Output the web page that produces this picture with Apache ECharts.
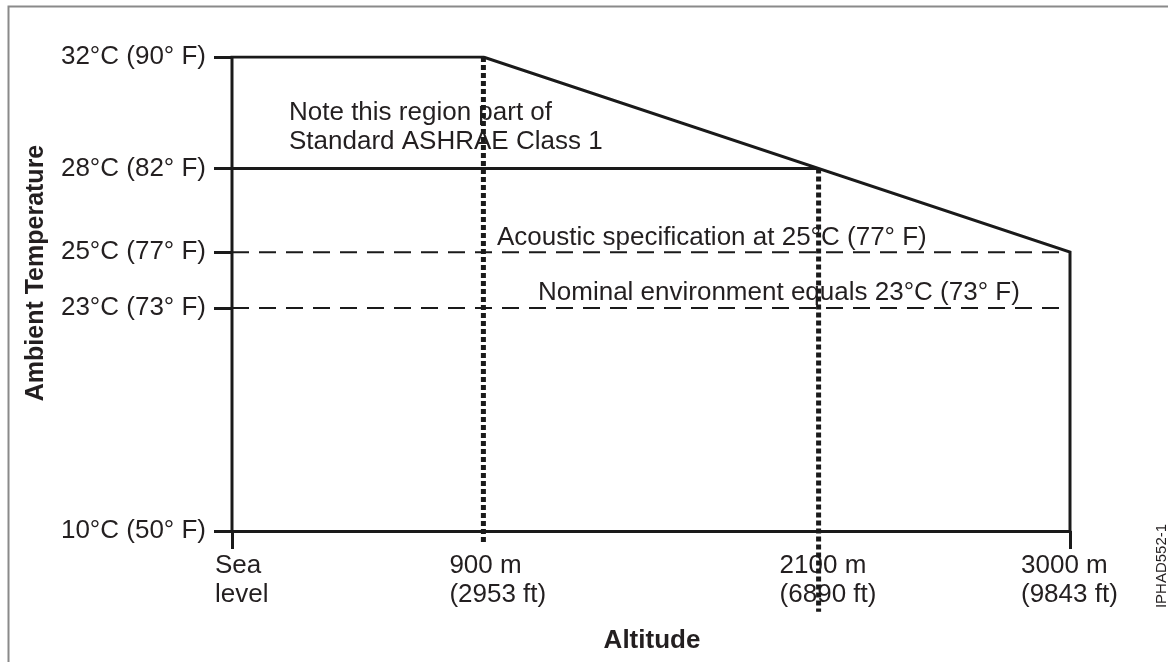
<!DOCTYPE html>
<html>
<head>
<meta charset="utf-8">
<script src="https://cdn.jsdelivr.net/npm/echarts@6/dist/echarts.min.js"></script>
<style>
  html, body { margin: 0; padding: 0; background: #fff; }
  #chart { width: 1168px; height: 662px; }
</style>
</head>
<body>
<div id="chart"></div>
<script>
// Altitude ticks (metres) and their equivalents in feet
const altitudeM = [0, 900, 2100, 3000];
const altitudeFt = [null, 2953, 6890, 9843];
// Temperature ticks (°C) and their equivalents in °F
const tempC = [32, 28, 25, 23, 10];
const tempF = [90, 82, 77, 73, 50];

// Allowed operating envelope: maximum ambient temperature by altitude
const envelopeAlt = [0, 0, 900, 3000, 3000];
const envelopeTemp = [10, 32, 32, 25, 10];
// Upper boundary of the ASHRAE Class 1 region
const class1Alt = [0, 2100];
const class1Temp = [28, 28];
// Reference temperatures across the full altitude range
const acousticTemp = 25;
const nominalTemp = 23;
// Dotted altitude guides (top and bottom temperature of each guide)
const guideAlt = [900, 2100];
const guideTop = [32, 28];
const guideBottom = [9.5, 7.1];

const INK = '#1a1a1a';
const TEXT = '#231f20';
const FONT = '"Liberation Sans", Arial, Helvetica, sans-serif';

const chart = echarts.init(document.getElementById('chart'), null, { renderer: 'canvas' });

const pairs = (xs, ys) => xs.map((x, i) => [x, ys[i]]);
const baseLine = { type: 'line', symbol: 'none', silent: true, animation: false };

const series = [
  Object.assign({}, baseLine, {
    name: 'envelope',
    data: pairs(envelopeAlt, envelopeTemp),
    lineStyle: { color: INK, width: 3, join: 'miter' },
    z: 3
  }),
  Object.assign({}, baseLine, {
    name: 'class1',
    data: pairs(class1Alt, class1Temp),
    lineStyle: { color: INK, width: 3 },
    z: 3
  }),
  Object.assign({}, baseLine, {
    name: 'acoustic',
    data: [[altitudeM[0], acousticTemp], [altitudeM[altitudeM.length - 1], acousticTemp]],
    lineStyle: { color: INK, width: 2, type: [17, 10] },
    z: 2
  }),
  Object.assign({}, baseLine, {
    name: 'nominal',
    data: [[altitudeM[0], nominalTemp], [altitudeM[altitudeM.length - 1], nominalTemp]],
    lineStyle: { color: INK, width: 2, type: [17, 10] },
    z: 2
  })
];
guideAlt.forEach((a, i) => {
  series.push(Object.assign({}, baseLine, {
    name: 'guide' + i,
    clip: false,
    data: [[a, guideTop[i]], [a, guideBottom[i]]],
    lineStyle: { color: INK, width: 5, type: [5, 3] },
    z: 4
  }));
});

chart.setOption({
  animation: false,
  backgroundColor: '#fff',
  grid: { left: 232, right: 98, top: 57, bottom: 131, containLabel: false, outerBoundsMode: 'none' },
  xAxis: {
    type: 'value',
    min: 0,
    max: 3000,
    axisLine: { show: true, onZero: false, lineStyle: { color: INK, width: 3 } },
    axisTick: { show: true, customValues: [altitudeM[0], altitudeM[altitudeM.length - 1]], length: 18, lineStyle: { color: INK, width: 3 } },
    axisLabel: { show: false },
    splitLine: { show: false }
  },
  yAxis: {
    type: 'value',
    min: 10,
    max: 32,
    breaks: [{ start: 12, end: 17, gap: 0 }],
    breakArea: { show: false },
    axisLine: { show: false },
    axisTick: { show: true, customValues: tempC, length: 18, lineStyle: { color: INK, width: 3 } },
    axisLabel: {
      show: true,
      customValues: tempC,
      margin: 26,
      fontSize: 26,
      fontFamily: FONT,
      color: TEXT,
      formatter: v => {
        const i = tempC.indexOf(v);
        return i < 0 ? '' : `${tempC[i]}°C (${tempF[i]}° F)`;
      }
    },
    splitLine: { show: false }
  },
  series: series
});

// Text placed after layout, anchored through the axis scales
const labelShift = [17, 34, 39, 49];
const graphics = [];
altitudeM.forEach((m, i) => {
  const p = chart.convertToPixel({ gridIndex: 0 }, [m, 10]);
  const txt = i === 0 ? 'Sea\nlevel' : `${m} m\n(${altitudeFt[i]} ft)`;
  graphics.push({
    type: 'text', silent: true,
    x: p[0] - labelShift[i], y: p[1] + 20,
    style: { text: txt, font: `26px ${FONT}`, fill: TEXT, lineHeight: 29, align: 'left', verticalAlign: 'top' }
  });
});

graphics.push(
  {
    type: 'text', silent: true, x: 289, y: 127,
    style: { text: 'Note this region part of\nStandard ASHRAE Class 1', font: `26px ${FONT}`, fill: TEXT, lineHeight: 29, align: 'left', verticalAlign: 'middle' }
  },
  {
    type: 'text', silent: true, x: 497, y: 238,
    style: { text: 'Acoustic specification at 25°C (77° F)', font: `26px ${FONT}`, fill: TEXT, align: 'left', verticalAlign: 'middle' }
  },
  {
    type: 'text', silent: true, x: 538, y: 293,
    style: { text: 'Nominal environment equals 23°C (73° F)', font: `26px ${FONT}`, fill: TEXT, align: 'left', verticalAlign: 'middle' }
  },
  {
    type: 'text', silent: true, x: 36, y: 273, rotation: Math.PI / 2,
    style: { text: 'Ambient Temperature', font: `bold 25px ${FONT}`, fill: TEXT, align: 'center', verticalAlign: 'middle' }
  },
  {
    type: 'text', silent: true, x: 652, y: 641,
    style: { text: 'Altitude', font: `bold 26px ${FONT}`, fill: TEXT, align: 'center', verticalAlign: 'middle' }
  },
  {
    type: 'text', silent: true, x: 1162, y: 566, rotation: Math.PI / 2,
    style: { text: 'IPHAD552-1', font: `15px ${FONT}`, fill: TEXT, align: 'center', verticalAlign: 'middle' }
  },
  {
    type: 'rect', silent: true, z: -1,
    shape: { x: 8.5, y: 6.5, width: 1200, height: 700 },
    style: { fill: 'none', stroke: '#8a8a8a', lineWidth: 2 }
  }
);

chart.setOption({ graphic: graphics });
</script>
</body>
</html>
